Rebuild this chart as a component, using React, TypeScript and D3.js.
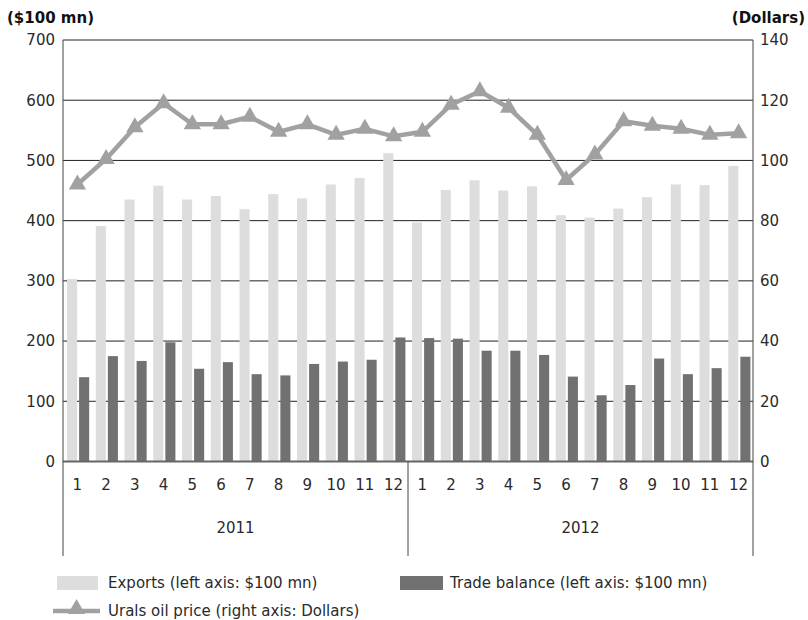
import { useEffect, useRef } from "react";
import * as d3 from "d3";

const years = ["2011", "2012"];
const months = ["1", "2", "3", "4", "5", "6", "7", "8", "9", "10", "11", "12"];

// $100 mn, left axis
const exportsVals = [
  303, 391, 435, 458, 435, 441, 419, 444, 437, 460, 471, 512,
  397, 451, 467, 450, 457, 409, 405, 420, 439, 460, 459, 491,
];
const tradeBalance = [
  140, 175, 167, 198, 154, 165, 145, 143, 162, 166, 169, 206,
  205, 204, 184, 184, 177, 141, 110, 127, 171, 145, 155, 174,
];
// Dollars, right axis
const uralsPrice = [
  92, 100.5, 111, 119, 112, 112, 114.5, 109.5, 112, 108.5, 110.5, 108,
  109.5, 118.5, 123, 117.5, 108.5, 93.5, 102, 113, 111.5, 110.5, 108.5, 109,
];

const leftTicks = [0, 100, 200, 300, 400, 500, 600, 700];
const rightTicks = [0, 20, 40, 60, 80, 100, 120, 140];

const FONT = "'DejaVu Sans', Verdana, sans-serif";
const LIGHT = "#dcdddc";
const DARK = "#717171";
const LINE = "#a0a2a0";
const TEXT = "#2a2a2a";

export default function App() {
  const svgRef = useRef<SVGSVGElement>(null);

  useEffect(() => {
    if (!svgRef.current) return;
    const width = 808;
    const margin = { top: 40, left: 63, right: 55 };
    const bottom0 = 461.5;

    const svg = d3.select(svgRef.current);
    svg.selectAll("*").remove();

    const keys = years.flatMap((y) => months.map((m) => `${y}-${m}`));
    const x = d3
      .scaleBand()
      .domain(keys)
      .range([margin.left, width - margin.right]);
    const yL = d3.scaleLinear().domain([0, 700]).range([bottom0, margin.top]);
    const yR = d3.scaleLinear().domain([0, 140]).range([bottom0, margin.top]);
    const bw = x.bandwidth();
    const barW = bw * 0.35;

    // grid
    leftTicks.slice(1).forEach((t) => {
      svg
        .append("line")
        .attr("x1", margin.left)
        .attr("x2", width - margin.right)
        .attr("y1", yL(t))
        .attr("y2", yL(t))
        .attr("stroke", "#222")
        .attr("stroke-width", 1);
    });

    // bars
    keys.forEach((k, i) => {
      const x0 = x(k)!;
      svg
        .append("rect")
        .attr("x", x0 + bw * 0.14)
        .attr("width", barW)
        .attr("y", yL(exportsVals[i]))
        .attr("height", bottom0 - yL(exportsVals[i]))
        .attr("fill", LIGHT);
      svg
        .append("rect")
        .attr("x", x0 + bw * 0.56)
        .attr("width", barW)
        .attr("y", yL(tradeBalance[i]))
        .attr("height", bottom0 - yL(tradeBalance[i]))
        .attr("fill", DARK);
    });

    // baseline
    svg
      .append("line")
      .attr("x1", margin.left)
      .attr("x2", width - margin.right)
      .attr("y1", bottom0)
      .attr("y2", bottom0)
      .attr("stroke", "#666")
      .attr("stroke-width", 2);

    // axes verticals + year divider
    const vBottom = 556;
    const divider = x(`${years[1]}-1`)!;
    [margin.left, divider, width - margin.right].forEach((vx) => {
      svg
        .append("line")
        .attr("x1", vx)
        .attr("x2", vx)
        .attr("y1", vx === divider ? bottom0 : margin.top)
        .attr("y2", vBottom)
        .attr("stroke", "#444")
        .attr("stroke-width", 1);
    });

    // oil price line
    const line = d3
      .line<number>()
      .x((_, i) => x(keys[i])! + bw / 2)
      .y((d) => yR(d));
    svg
      .append("path")
      .datum(uralsPrice)
      .attr("fill", "none")
      .attr("stroke", LINE)
      .attr("stroke-width", 4.5)
      .attr("stroke-linejoin", "round")
      .attr("d", line);
    const tri = d3.symbol().type(d3.symbolTriangle).size(130);
    uralsPrice.forEach((d, i) => {
      svg
        .append("path")
        .attr("d", tri()!)
        .attr("transform", `translate(${x(keys[i])! + bw / 2},${yR(d)})`)
        .attr("fill", LINE);
    });

    // tick labels
    leftTicks.forEach((t) => {
      svg
        .append("text")
        .attr("x", 55)
        .attr("y", yL(t))
        .attr("dy", "0.36em")
        .attr("text-anchor", "end")
        .attr("font-family", FONT)
        .attr("font-size", 15)
        .attr("fill", TEXT)
        .text(t);
    });
    rightTicks.forEach((t) => {
      svg
        .append("text")
        .attr("x", 760)
        .attr("y", yR(t))
        .attr("dy", "0.36em")
        .attr("font-family", FONT)
        .attr("font-size", 15)
        .attr("fill", TEXT)
        .text(t);
    });
    svg
      .append("text")
      .attr("x", 7)
      .attr("y", 23)
      .attr("font-family", FONT)
      .attr("font-size", 15)
      .attr("font-weight", 700)
      .attr("fill", "#111")
      .text("($100 mn)");
    svg
      .append("text")
      .attr("x", 805)
      .attr("y", 23)
      .attr("text-anchor", "end")
      .attr("font-family", FONT)
      .attr("font-size", 15)
      .attr("font-weight", 700)
      .attr("fill", "#111")
      .text("(Dollars)");

    // month + year labels
    keys.forEach((k, i) => {
      svg
        .append("text")
        .attr("x", x(k)! + bw / 2)
        .attr("y", 485)
        .attr("dy", "0.36em")
        .attr("text-anchor", "middle")
        .attr("font-family", FONT)
        .attr("font-size", 15)
        .attr("fill", TEXT)
        .text(months[i % 12]);
    });
    years.forEach((yr) => {
      const a = x(`${yr}-1`)!;
      const b = x(`${yr}-12`)! + bw;
      svg
        .append("text")
        .attr("x", (a + b) / 2)
        .attr("y", 528)
        .attr("dy", "0.36em")
        .attr("text-anchor", "middle")
        .attr("font-family", FONT)
        .attr("font-size", 15)
        .attr("fill", TEXT)
        .text(yr);
    });

    // legend
    const legend = svg.append("g").attr("font-family", FONT).attr("font-size", 15).attr("fill", TEXT);
    legend.append("rect").attr("x", 57).attr("y", 576).attr("width", 41).attr("height", 14).attr("fill", LIGHT);
    legend.append("text").attr("x", 108).attr("y", 583).attr("dy", "0.36em").text("Exports (left axis: $100 mn)");
    legend.append("rect").attr("x", 400).attr("y", 576).attr("width", 43).attr("height", 14).attr("fill", DARK);
    legend.append("text").attr("x", 450).attr("y", 583).attr("dy", "0.36em").text("Trade balance (left axis: $100 mn)");
    legend
      .append("line")
      .attr("x1", 53)
      .attr("x2", 100)
      .attr("y1", 611)
      .attr("y2", 611)
      .attr("stroke", LINE)
      .attr("stroke-width", 4.5);
    legend.append("path").attr("d", tri()!).attr("transform", "translate(76.5,609)").attr("fill", LINE);
    legend.append("text").attr("x", 108).attr("y", 611).attr("dy", "0.36em").text("Urals oil price (right axis: Dollars)");
  }, []);

  return (
    <svg
      ref={svgRef}
      width={808}
      height={620}
      style={{ position: "absolute", left: 0, top: 0, background: "#fff" }}
    />
  );
}
